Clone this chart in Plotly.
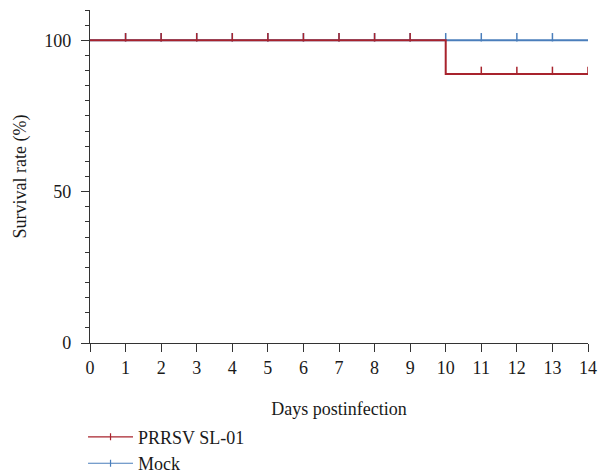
import plotly.graph_objects as go

days = list(range(0, 15))
prrsv_survival = [100, 100, 100, 100, 100, 100, 100, 100, 100, 100, 88.9, 88.9, 88.9, 88.9, 88.9]
mock_survival = [100] * 15
prrsv_censor_days = [1, 2, 3, 4, 5, 6, 7, 8, 9, 11, 12, 13, 14]
mock_censor_days = [1, 2, 3, 4, 5, 6, 7, 8, 9, 10, 11, 12, 13]

x_ticks = list(range(0, 15))
y_ticks = [0, 50, 100]

RED = "#a8232d"
BLUE = "#4a7ebb"
FONT = "Liberation Serif"
TXT = "#1a1a1a"

def val_at(series, d):
    return series[days.index(d)]

fig = go.Figure()

fig.add_trace(go.Scatter(
    x=days, y=mock_survival, mode="lines", line=dict(color=BLUE, width=2, shape="hv"),
    name="Mock", showlegend=False))
fig.add_trace(go.Scatter(
    x=mock_censor_days, y=[val_at(mock_survival, d) + 1 for d in mock_censor_days],
    mode="markers", marker=dict(symbol="line-ns", size=6, line=dict(color=BLUE, width=1.5)),
    showlegend=False, hoverinfo="skip"))

fig.add_trace(go.Scatter(
    x=days, y=prrsv_survival, mode="lines", line=dict(color=RED, width=2, shape="hv"),
    name="PRRSV SL-01", showlegend=False))
fig.add_trace(go.Scatter(
    x=prrsv_censor_days, y=[val_at(prrsv_survival, d) + 1 for d in prrsv_censor_days],
    mode="markers", marker=dict(symbol="line-ns", size=6, line=dict(color=RED, width=1.5)),
    showlegend=False, hoverinfo="skip"))

fig.add_trace(go.Scatter(
    x=[None], y=[None], mode="lines+markers", name="PRRSV SL-01", legendrank=1,
    line=dict(color=RED, width=1.2),
    marker=dict(symbol="line-ns", size=5, line=dict(color=RED, width=1.2))))
fig.add_trace(go.Scatter(
    x=[None], y=[None], mode="lines+markers", name="Mock", legendrank=2,
    line=dict(color=BLUE, width=1.2),
    marker=dict(symbol="line-ns", size=5, line=dict(color=BLUE, width=1.2))))

fig.update_layout(
    width=599, height=476,
    margin=dict(l=90, r=11, t=10, b=133),
    paper_bgcolor="white", plot_bgcolor="white",
    font=dict(family=FONT, size=18, color=TXT),
    legend=dict(x=-0.014, y=0.1205, xanchor="left", yanchor="top", yref="container",
                font=dict(family=FONT, size=18, color=TXT),
                bgcolor="rgba(0,0,0,0)", tracegroupgap=0, itemwidth=45),
    xaxis=dict(range=[0, 14], tickvals=x_ticks, ticktext=[str(t) for t in x_ticks],
               automargin=False,
               showgrid=False, zeroline=False, showline=True, linecolor="#333333", linewidth=1.2,
               ticks="outside", ticklen=8, tickcolor="#333333", tickwidth=1.2,
               tickfont=dict(family=FONT, size=18, color=TXT),
               title=dict(text="Days postinfection", standoff=58,
                          font=dict(family=FONT, size=18, color=TXT))),
    yaxis=dict(range=[0, 110], tickvals=y_ticks, ticktext=[str(t) for t in y_ticks],
               automargin=False, ticklabelstandoff=6,
               showgrid=False, zeroline=False, showline=True, linecolor="#333333", linewidth=1.2,
               ticks="outside", ticklen=8, tickcolor="#333333", tickwidth=1.2,
               tickfont=dict(family=FONT, size=18, color=TXT),
               minor=dict(dtick=5, tick0=0, ticks="outside", ticklen=4, tickcolor="#333333", tickwidth=1.2, showgrid=False),
               title=dict(text="Survival rate (%)", standoff=12,
                          font=dict(family=FONT, size=18, color=TXT))),
)

fig.write_html("out.html", config={"displayModeBar": False},
               post_script="document.body.style.margin='0';document.body.style.overflow='hidden';")
